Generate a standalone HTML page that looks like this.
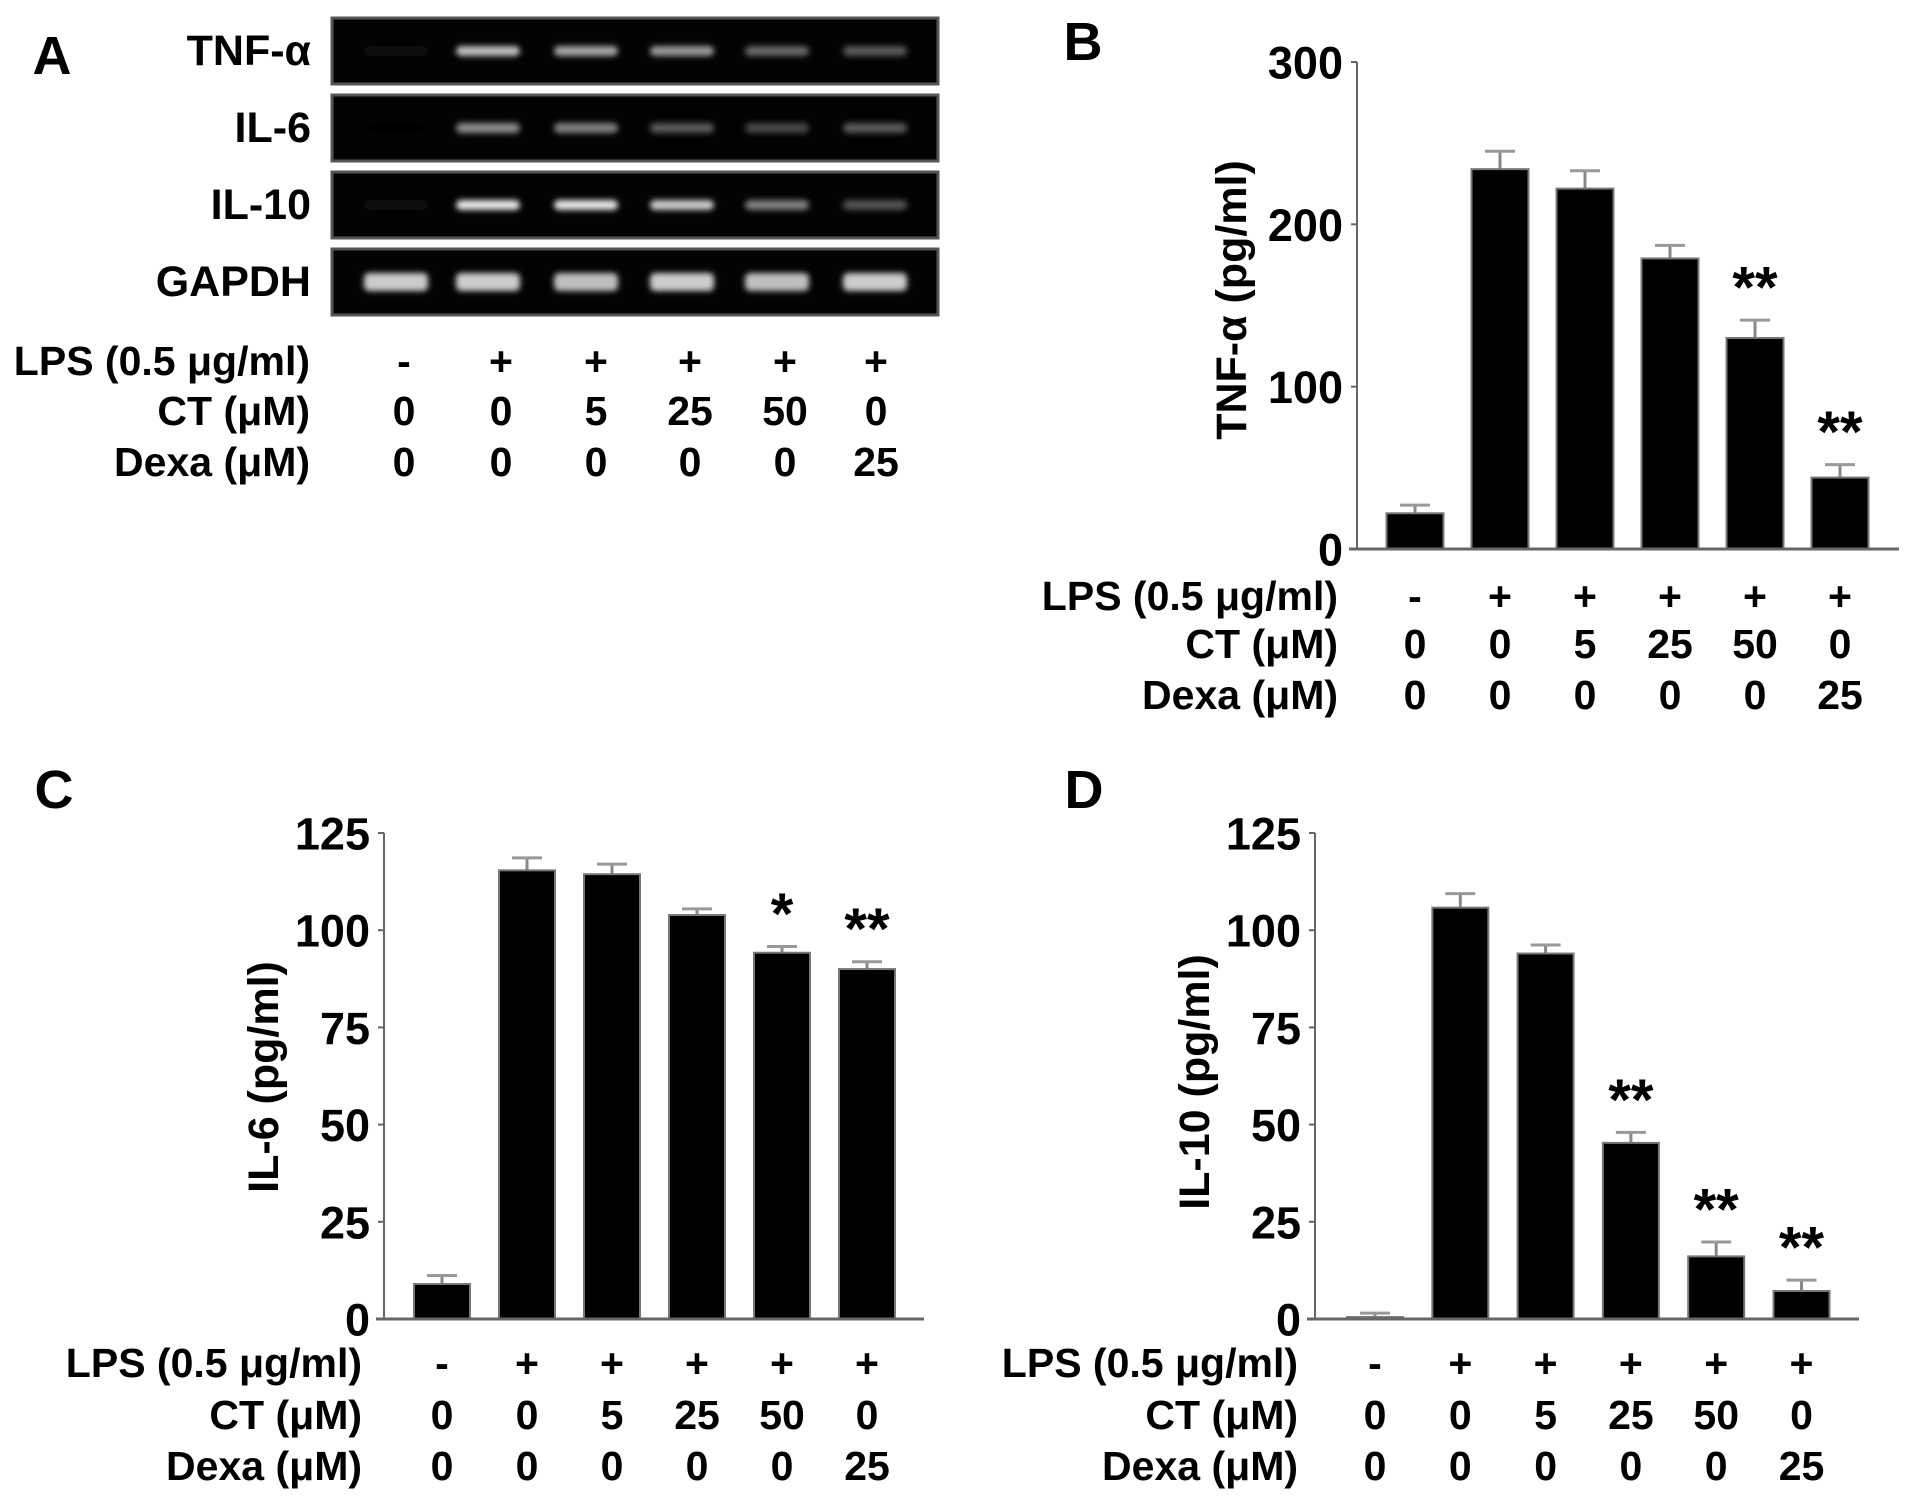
<!DOCTYPE html>
<html><head><meta charset="utf-8">
<style>
html,body{margin:0;padding:0;background:#fff;}
svg{display:block;}
text{font-family:"Liberation Sans",Arial,sans-serif;font-weight:bold;fill:#000;}
</style></head>
<body>
<svg id="fig" width="1913" height="1501" viewBox="0 0 1913 1501" xmlns="http://www.w3.org/2000/svg">
<defs>
<filter id="blur" x="-50%" y="-100%" width="200%" height="300%"><feGaussianBlur stdDeviation="3"/></filter>
</defs>
</svg>
<script>
// ---- Data ----
const lpsLabels = ["-","+","+","+","+","+"];
const ctLabels = ["0","0","5","25","50","0"];
const dexaLabels = ["0","0","0","0","0","25"];
const blotGenes = ["TNF-α","IL-6","IL-10","GAPDH"];
const tnfBand = [0.06,0.75,0.65,0.6,0.4,0.35];
const il6Band = [0.0,0.55,0.5,0.35,0.28,0.35];
const il10Band = [0.05,0.9,0.9,0.8,0.5,0.32];
const gapdhBand = [0.8,0.8,0.75,0.8,0.75,0.8];

const tnfValues = [22,234,222,179,130,44];
const tnfErrors = [5,11,11,8,11,8];
const tnfTicks = [0,100,200,300];
const tnfSig = ["","","","","**","**"];

const il6Values = [9,115.4,114.4,103.9,94.2,90];
const il6Errors = [2.2,3.2,2.6,1.6,1.6,1.9];
const il6Ticks = [0,25,50,75,100,125];
const il6Sig = ["","","","","*","**"];

const il10Values = [0.5,105.8,94,45.3,16.1,7.2];
const il10Errors = [1,3.6,2.2,2.7,3.7,2.8];
const il10Ticks = [0,25,50,75,100,125];
const il10Sig = ["","","","**","**","**"];

const NS = "http://www.w3.org/2000/svg";
const svg = document.getElementById('fig');
function el(tag, attrs, parent){
  const e = document.createElementNS(NS, tag);
  for (const k in attrs) e.setAttribute(k, attrs[k]);
  (parent||svg).appendChild(e);
  return e;
}
function txt(s, x, y, size, anchor, parent){
  const t = el('text', {x:x, y:y, 'font-size':size, 'text-anchor':anchor||'middle', 'dominant-baseline':'central'}, parent);
  t.textContent = s;
  return t;
}

// condition table
function condTable(g, labelRight, colX, rowY, fs){
  const rows = [["LPS (0.5 μg/ml)", lpsLabels],["CT (μM)", ctLabels],["Dexa (μM)", dexaLabels]];
  rows.forEach((r,i)=>{
    const l = txt(r[0], labelRight, rowY[i], fs, 'end', g);
    
    
    r[1].forEach((v,j)=>{
      const c = txt(v, colX[j], rowY[i], fs, 'middle', g);
      
      
    });
  });
}

// ---- Panel A ----
const gA = el('g', {});


const la = txt("A", 52, 56, 54, 'middle', gA);


const bandSets = [tnfBand, il6Band, il10Band, gapdhBand];
const blotTop = [18, 95, 172, 249];
const blotH = 66;
const laneX = [396,488,586,682,777,875];
blotGenes.forEach((gname, i)=>{
  const r = el('rect', {x:332, y:blotTop[i], width:606, height:blotH, fill:'#030303', stroke:'#555', 'stroke-width':3}, gA);
  
  
  const lab = txt(gname, 311, blotTop[i]+blotH/2, 43, 'end', gA);
  
  
  const bh = i===3 ? 18 : 10;
  bandSets[i].forEach((v,j)=>{
    const gv = Math.round(255*v);
    const b = el('rect', {x:laneX[j]-32, y:blotTop[i]+blotH/2-bh/2, width:64, height:bh, rx:5, fill:`rgb(${gv},${gv},${gv})`, filter:'url(#blur)'}, gA);
    
    
  });
});
condTable(gA, 310, [404,501,596,690,785,876], [361,411,462], 41);

// ---- Bar panel ----
function barPanel(opt){
  const g = el('g', {});
  
  
  const L = txt(opt.letter, opt.letterX, opt.letterY, 54, 'middle', g);
  
  
  const ymax = opt.ticks[opt.ticks.length-1];
  const yS = v => opt.y0 - (v/ymax)*(opt.y0-opt.yTop);
  const ax = el('line', {x1:opt.axisX, y1:opt.yTop, x2:opt.axisX, y2:opt.y0, stroke:'#666', 'stroke-width':2}, g);
  
  
  opt.ticks.forEach(t=>{
    const tk = el('line', {x1:opt.axisX-6, y1:yS(t), x2:opt.axisX, y2:yS(t), stroke:'#666', 'stroke-width':2}, g);
    
    
    const tl = txt(String(t), opt.axisX-14, yS(t)+1, 45, 'end', g);
    
    
  });
  const yt = txt(opt.title, 0, 0, 43, 'middle', g);
  yt.setAttribute('transform', `translate(${opt.titleX},${opt.titleY}) rotate(-90)`);
  
  
  const bw = opt.barW;
  opt.values.forEach((v,i)=>{
    const cx = opt.barX0 + i*opt.barStep;
    const top = yS(v+opt.errors[i]);
    const e1 = el('line', {x1:cx, y1:top, x2:cx, y2:yS(v), stroke:'#888', 'stroke-width':3}, g);
    
    
    const e2 = el('line', {x1:cx-15, y1:top, x2:cx+15, y2:top, stroke:'#999', 'stroke-width':3}, g);
    
    
    const b = el('rect', {x:cx-bw/2, y:yS(v), width:bw, height:opt.y0-yS(v), fill:'#000', stroke:'#777', 'stroke-width':2}, g);
    
    
    if (opt.sig[i]) {
      const s = txt(opt.sig[i], cx, top-32, 58, 'middle', g);
      
      
    }
  });
  const base = el('line', {x1:opt.axisX-8, y1:opt.y0, x2:opt.baseEnd, y2:opt.y0, stroke:'#666', 'stroke-width':3}, g);
  
  
  const cols = opt.values.map((v,i)=>opt.barX0+i*opt.barStep);
  condTable(g, opt.labelRight, cols, opt.rows, 41);
}

barPanel({name:'panel-b', letter:'B', letterX:1083, letterY:42, axisX:1357, yTop:62, y0:549, baseEnd:1899,
  ticks:tnfTicks, values:tnfValues, errors:tnfErrors, sig:tnfSig, barX0:1415, barStep:85, barW:57,
  title:'TNF-α (pg/ml)', titleX:1232, titleY:300, labelRight:1338, rows:[596,644,695]});
barPanel({name:'panel-c', letter:'C', letterX:54, letterY:790, axisX:384, yTop:833, y0:1319, baseEnd:924,
  ticks:il6Ticks, values:il6Values, errors:il6Errors, sig:il6Sig, barX0:442, barStep:85, barW:56,
  title:'IL-6 (pg/ml)', titleX:264, titleY:1077, labelRight:362, rows:[1363,1415,1466]});
barPanel({name:'panel-d', letter:'D', letterX:1084, letterY:790, axisX:1315, yTop:833, y0:1319, baseEnd:1859,
  ticks:il10Ticks, values:il10Values, errors:il10Errors, sig:il10Sig, barX0:1375, barStep:85.3, barW:56,
  title:'IL-10 (pg/ml)', titleX:1195, titleY:1082, labelRight:1298, rows:[1363,1415,1466]});
</script>
</body></html>
